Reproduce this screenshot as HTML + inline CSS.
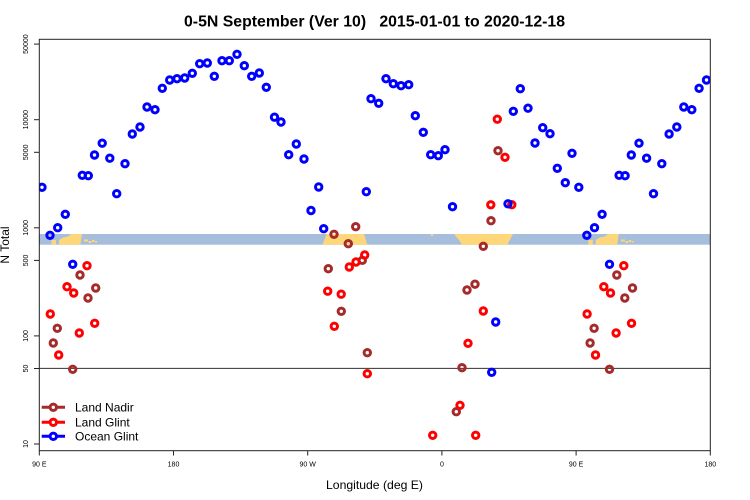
<!DOCTYPE html>
<html><head><meta charset="utf-8"><style>
html,body{margin:0;padding:0;background:#fff;}
svg{display:block;font-family:"Liberation Sans",Arial,sans-serif;}
</style></head><body>
<svg width="750" height="500" viewBox="0 0 750 500" xmlns="http://www.w3.org/2000/svg">
<defs><clipPath id="c"><rect x="39.3" y="39.3" width="671" height="411.4"/></clipPath></defs>
<rect x="0" y="0" width="750" height="500" fill="#fff"/>
<text x="374.5" y="26.5" font-size="16" font-weight="bold" text-anchor="middle" textLength="381" lengthAdjust="spacingAndGlyphs" fill="#000" xml:space="preserve">0-5N September (Ver 10)   2015-01-01 to 2020-12-18</text>
<g clip-path="url(#c)">
<rect x="39" y="234" width="673" height="10.7" fill="#a6bddb"/>
<g id="land" fill="#fdd77a">
<polygon points="59,240 63,237.5 68,236.5 71,234 82,234 81,240 80.5,244.7 59,244.7"/>
<rect x="51.5" y="240" width="4.5" height="4.7"/>
<rect x="84" y="239.5" width="4" height="2"/>
<rect x="88.5" y="241" width="3" height="2"/>
<rect x="92" y="240" width="2.5" height="2"/>
<rect x="95" y="241" width="2" height="1.5"/>
<polygon points="326.5,234 364,234 367.3,244.7 322.5,244.7"/>
<polygon points="454,234 513,234 507.3,244.7 462,244.7 459,240"/>
<rect x="431" y="234" width="2" height="2"/>
</g>
<use href="#land" x="536.8"/>
<line x1="39" y1="368.4" x2="711" y2="368.4" stroke="#333" stroke-width="1"/>
<g id="pts" fill="none" stroke-width="3">
<g stroke="#a52a2a">
<circle cx="53.3" cy="343" r="3.2"/><circle cx="57.3" cy="328.3" r="3.2"/><circle cx="72.7" cy="369.3" r="3.2"/><circle cx="80" cy="275" r="3.2"/><circle cx="88" cy="298" r="3.2"/><circle cx="95.7" cy="288" r="3.2"/><circle cx="328.3" cy="268.7" r="3.2"/><circle cx="334" cy="234.3" r="3.2"/><circle cx="341.3" cy="311.3" r="3.2"/><circle cx="348.3" cy="243.7" r="3.2"/><circle cx="355.7" cy="226.7" r="3.2"/><circle cx="362.3" cy="260.3" r="3.2"/><circle cx="367.3" cy="352.7" r="3.2"/><circle cx="456.3" cy="411.7" r="3.2"/><circle cx="462" cy="367.7" r="3.2"/><circle cx="467" cy="290" r="3.2"/><circle cx="475" cy="284.2" r="3.2"/><circle cx="483.3" cy="246.3" r="3.2"/><circle cx="491" cy="220.7" r="3.2"/><circle cx="498" cy="150.7" r="3.2"/>
</g>
<g stroke="#ff0000">
<circle cx="50.3" cy="314" r="3.2"/><circle cx="58.7" cy="355" r="3.2"/><circle cx="67" cy="286.7" r="3.2"/><circle cx="73.7" cy="293" r="3.2"/><circle cx="79.3" cy="333" r="3.2"/><circle cx="87" cy="265.7" r="3.2"/><circle cx="94.7" cy="323.3" r="3.2"/><circle cx="327.7" cy="291.2" r="3.2"/><circle cx="341.2" cy="294.2" r="3.2"/><circle cx="334.3" cy="326.3" r="3.2"/><circle cx="349.3" cy="267" r="3.2"/><circle cx="356" cy="262" r="3.2"/><circle cx="364.7" cy="255" r="3.2"/><circle cx="367.3" cy="373.7" r="3.2"/><circle cx="432.7" cy="435.3" r="3.2"/><circle cx="460" cy="405.3" r="3.2"/><circle cx="468" cy="343.3" r="3.2"/><circle cx="475.7" cy="435.3" r="3.2"/><circle cx="483.3" cy="311" r="3.2"/><circle cx="490.8" cy="204.8" r="3.2"/><circle cx="497.3" cy="119.2" r="3.2"/><circle cx="505" cy="157.3" r="3.2"/><circle cx="511.8" cy="204.7" r="3.2"/>
</g>
<g stroke="#0000ff">
<circle cx="42" cy="187.3" r="3.2"/><circle cx="50" cy="235.3" r="3.2"/><circle cx="57.7" cy="227.7" r="3.2"/><circle cx="65.3" cy="214.3" r="3.2"/><circle cx="72.7" cy="264.3" r="3.2"/><circle cx="82.3" cy="175.3" r="3.2"/><circle cx="88.3" cy="175.7" r="3.2"/><circle cx="94.5" cy="155" r="3.2"/><circle cx="102.2" cy="143.2" r="3.2"/><circle cx="109.8" cy="158.2" r="3.2"/><circle cx="116.7" cy="193.7" r="3.2"/><circle cx="125" cy="163.7" r="3.2"/><circle cx="132.3" cy="134" r="3.2"/><circle cx="140" cy="127" r="3.2"/><circle cx="147" cy="107" r="3.2"/><circle cx="155" cy="109.7" r="3.2"/><circle cx="162.3" cy="88.3" r="3.2"/><circle cx="169.7" cy="80" r="3.2"/><circle cx="177" cy="78.7" r="3.2"/><circle cx="184.7" cy="78" r="3.2"/><circle cx="192.3" cy="73.3" r="3.2"/><circle cx="199.7" cy="63.7" r="3.2"/><circle cx="207.3" cy="63" r="3.2"/><circle cx="214.3" cy="76.3" r="3.2"/><circle cx="222" cy="60.7" r="3.2"/><circle cx="229.3" cy="60.7" r="3.2"/><circle cx="237" cy="54.3" r="3.2"/><circle cx="244.3" cy="65.7" r="3.2"/><circle cx="251.7" cy="76.3" r="3.2"/><circle cx="259.3" cy="73" r="3.2"/><circle cx="266.3" cy="87.3" r="3.2"/><circle cx="274.5" cy="117.2" r="3.2"/><circle cx="281" cy="122" r="3.2"/><circle cx="296.3" cy="144" r="3.2"/><circle cx="288.7" cy="154.7" r="3.2"/><circle cx="304" cy="159" r="3.2"/><circle cx="318.7" cy="187" r="3.2"/><circle cx="311" cy="210.5" r="3.2"/><circle cx="323.7" cy="228.7" r="3.2"/><circle cx="366.3" cy="191.7" r="3.2"/><circle cx="371" cy="98.7" r="3.2"/><circle cx="378.7" cy="103.3" r="3.2"/><circle cx="386" cy="78.7" r="3.2"/><circle cx="393.3" cy="83.7" r="3.2"/><circle cx="401" cy="85.7" r="3.2"/><circle cx="408.7" cy="84.7" r="3.2"/><circle cx="415.3" cy="115.7" r="3.2"/><circle cx="423.3" cy="132.3" r="3.2"/><circle cx="430.7" cy="154.7" r="3.2"/><circle cx="438.3" cy="155.7" r="3.2"/><circle cx="445" cy="149.7" r="3.2"/><circle cx="452.5" cy="206.7" r="3.2"/><circle cx="495.7" cy="322" r="3.2"/><circle cx="491.7" cy="372.3" r="3.2"/><circle cx="508" cy="203.8" r="3.2"/><circle cx="513.3" cy="111.3" r="3.2"/><circle cx="520.3" cy="88.7" r="3.2"/><circle cx="528" cy="108.2" r="3.2"/><circle cx="535" cy="143" r="3.2"/><circle cx="542.7" cy="127.7" r="3.2"/><circle cx="550" cy="133.7" r="3.2"/><circle cx="557.3" cy="168.3" r="3.2"/><circle cx="565.3" cy="182.7" r="3.2"/><circle cx="572" cy="153.3" r="3.2"/>
</g>
</g>
<use href="#pts" x="536.8"/>
</g>
<rect x="39.3" y="39.3" width="671" height="411.4" fill="none" stroke="#222" stroke-width="1"/>
<g stroke="#222" stroke-width="1">
<line x1="34" y1="44.1" x2="39.3" y2="44.1"/>
<line x1="34" y1="119.7" x2="39.3" y2="119.7"/>
<line x1="34" y1="152.3" x2="39.3" y2="152.3"/>
<line x1="34" y1="227.8" x2="39.3" y2="227.8"/>
<line x1="34" y1="260.4" x2="39.3" y2="260.4"/>
<line x1="34" y1="335.9" x2="39.3" y2="335.9"/>
<line x1="34" y1="368.5" x2="39.3" y2="368.5"/>
<line x1="34" y1="444" x2="39.3" y2="444"/>
<line x1="39.3" y1="450.7" x2="39.3" y2="455.5"/>
<line x1="173.5" y1="450.7" x2="173.5" y2="455.5"/>
<line x1="307.7" y1="450.7" x2="307.7" y2="455.5"/>
<line x1="441.9" y1="450.7" x2="441.9" y2="455.5"/>
<line x1="576.1" y1="450.7" x2="576.1" y2="455.5"/>
<line x1="710.3" y1="450.7" x2="710.3" y2="455.5"/>
</g>
<g font-size="7" fill="#000" text-anchor="middle">
<text transform="translate(28,44.1) rotate(-90)">50000</text>
<text transform="translate(28,119.7) rotate(-90)">10000</text>
<text transform="translate(28,152.3) rotate(-90)">5000</text>
<text transform="translate(28,227.8) rotate(-90)">1000</text>
<text transform="translate(28,260.4) rotate(-90)">500</text>
<text transform="translate(28,335.9) rotate(-90)">100</text>
<text transform="translate(28,368.5) rotate(-90)">50</text>
<text transform="translate(28,444) rotate(-90)">10</text>
<text x="39.3" y="466.5">90 E</text>
<text x="173.5" y="466.5">180</text>
<text x="307.7" y="466.5">90 W</text>
<text x="441.9" y="466.5">0</text>
<text x="576.1" y="466.5">90 E</text>
<text x="710.3" y="466.5">180</text>
</g>
<text x="374.5" y="489" font-size="12" text-anchor="middle" textLength="97" lengthAdjust="spacingAndGlyphs" fill="#000">Longitude (deg E)</text>
<text transform="translate(9,245) rotate(-90)" font-size="12" text-anchor="middle" fill="#000">N Total</text>
<g stroke-width="3" fill="none">
<line x1="41.7" y1="407.3" x2="65" y2="407.3" stroke="#a52a2a"/>
<circle cx="53.3" cy="407.3" r="3.2" stroke="#a52a2a" fill="#fff"/>
<line x1="41.7" y1="422.3" x2="65" y2="422.3" stroke="#ff0000"/>
<circle cx="53.3" cy="422.3" r="3.2" stroke="#ff0000" fill="#fff"/>
<line x1="41.7" y1="436.3" x2="65" y2="436.3" stroke="#0000ff"/>
<circle cx="53.3" cy="436.3" r="3.2" stroke="#0000ff" fill="#fff"/>
</g>
<g font-size="12" fill="#000">
<text x="75" y="411.5">Land Nadir</text>
<text x="75" y="426.5">Land Glint</text>
<text x="75" y="440.5">Ocean Glint</text>
</g>
</svg>
</body></html>
